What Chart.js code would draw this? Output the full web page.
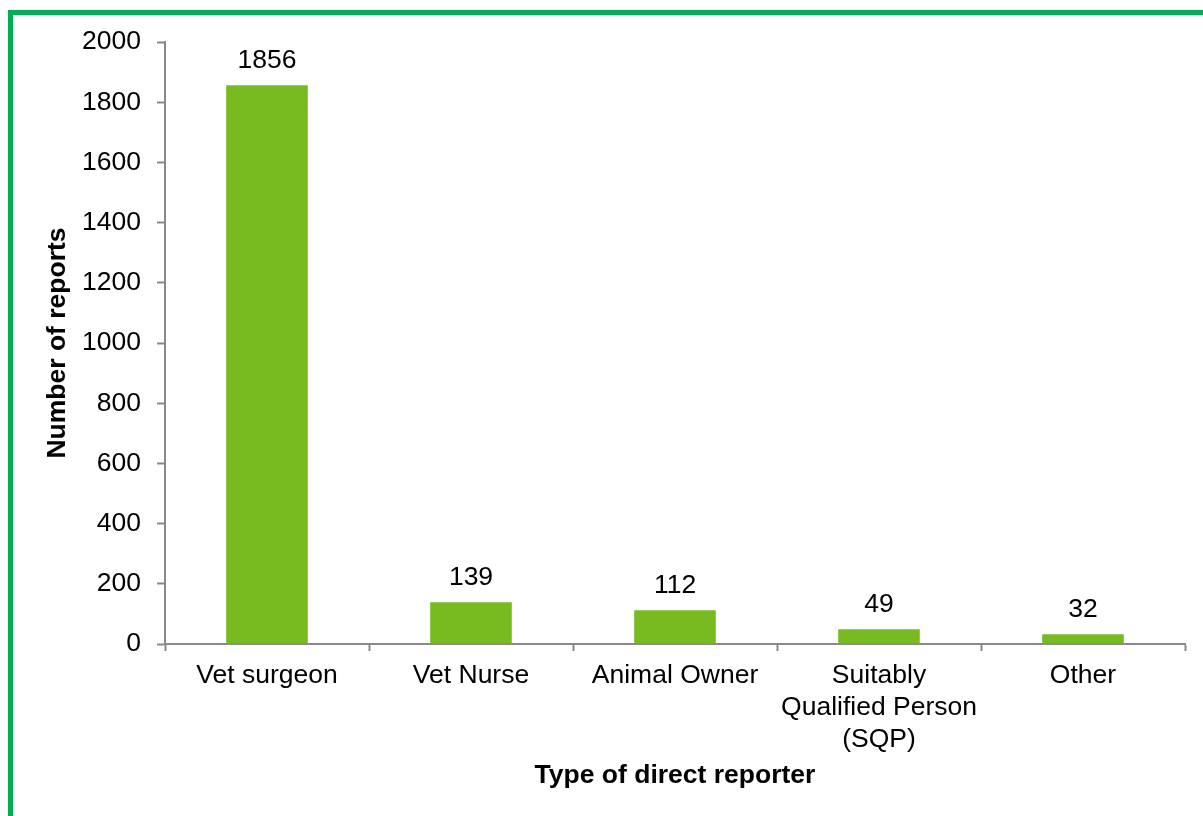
<!DOCTYPE html>
<html>
<head>
<meta charset="utf-8">
<script src="https://cdn.jsdelivr.net/npm/chart.js@4"></script>
<style>
  html, body { margin: 0; padding: 0; background: #fff; overflow: hidden; }
  #frame {
    position: absolute; left: 8px; top: 10px; width: 1220px; height: 840px;
    border: 5px solid #00B050; pointer-events: none;
  }
  #chart { position: absolute; left: 0; top: 0; }
</style>
</head>
<body>
<canvas id="chart" width="1203" height="816"></canvas>
<div id="frame"></div>
<script>
// reporter types and counts
const categories = ["Vet surgeon", "Vet Nurse", "Animal Owner", ["Suitably", "Qualified Person", "(SQP)"], "Other"];
const reports = [1856, 139, 112, 49, 32];
const yTicks = [0, 200, 400, 600, 800, 1000, 1200, 1400, 1600, 1800, 2000];

const axisGrey = '#898989';
const barGreen = '#77BB21';
const font = 'Liberation Sans';
const fontSize = 26.5;

// numbers above bars
const valueLabels = {
  id: 'valueLabels',
  afterDatasetsDraw(chart) {
    const ctx = chart.ctx;
    const meta = chart.getDatasetMeta(0);
    ctx.save();
    ctx.font = fontSize + 'px "' + font + '"';
    ctx.fillStyle = '#000';
    ctx.textAlign = 'center';
    ctx.textBaseline = 'alphabetic';
    meta.data.forEach((bar, i) => {
      ctx.fillText(String(reports[i]), bar.x, bar.y - 17);
    });
    ctx.restore();
  }
};

const ctx = document.getElementById('chart').getContext('2d');
new Chart(ctx, {
  type: 'bar',
  data: {
    labels: categories,
    datasets: [{
      data: reports,
      backgroundColor: barGreen,
      borderWidth: 0,
      categoryPercentage: 1,
      barPercentage: 0.4
    }]
  },
  options: {
    responsive: false,
    animation: false,
    layout: { padding: { left: 0, right: 18, top: 42, bottom: 0 } },
    plugins: {
      legend: { display: false },
      tooltip: { enabled: false }
    },
    scales: {
      x: {
        grid: { display: true, drawOnChartArea: false, drawTicks: true, tickLength: 7, tickWidth: 2, tickColor: axisGrey, offset: true },
        border: { display: true, color: axisGrey, width: 2 },
        ticks: {
          color: '#000', padding: 9, maxRotation: 0, autoSkip: false,
          font: { family: font, size: fontSize, lineHeight: 1.2 }
        },
        title: {
          display: true, text: 'Type of direct reporter', color: '#000',
          font: { family: font, size: fontSize, weight: 'bold', lineHeight: 1.2 },
          padding: { top: 0, bottom: 24 }
        },
        afterFit(scale) { scale.height = 172; }
      },
      y: {
        min: 0,
        max: 2000,
        afterBuildTicks(scale) { scale.ticks = yTicks.map(v => ({ value: v })); },
        grid: { display: true, drawOnChartArea: false, drawTicks: true, tickLength: 8, tickWidth: 2, tickColor: axisGrey },
        border: { display: true, color: axisGrey, width: 2 },
        ticks: {
          color: '#000', padding: 16,
          font: { family: font, size: fontSize },
          callback: (v) => String(v)
        },
        title: {
          display: true, text: 'Number of reports', color: '#000',
          font: { family: font, size: fontSize, weight: 'bold', lineHeight: 1.2 },
          padding: { top: 42, bottom: 0 }
        },
        afterFit(scale) { scale.width = 165; }
      }
    }
  },
  plugins: [valueLabels]
});
</script>
</body>
</html>
